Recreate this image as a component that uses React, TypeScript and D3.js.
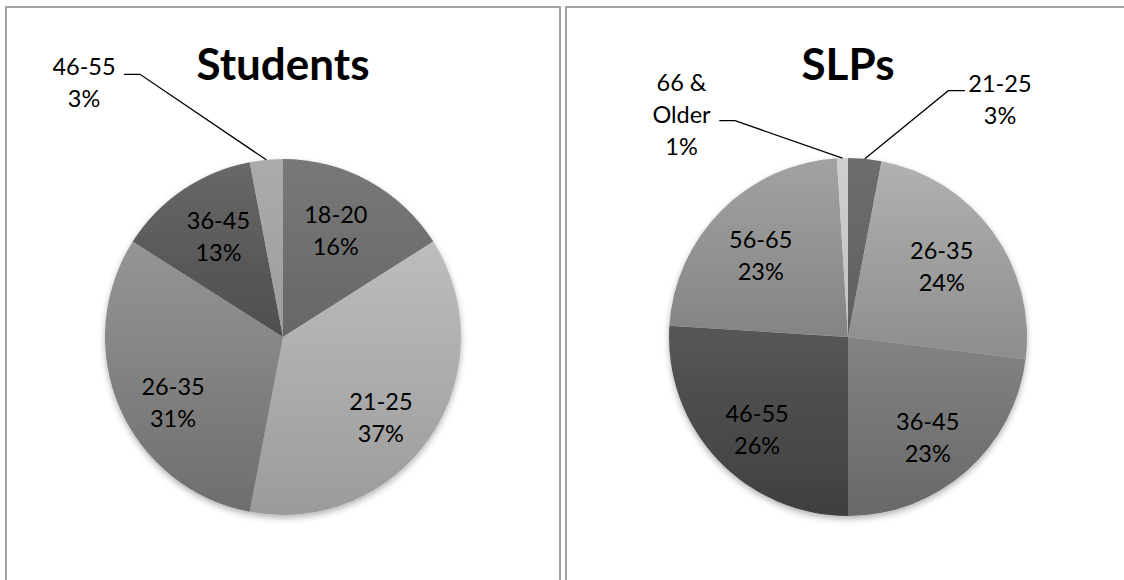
import React from "react";
import * as d3 from "d3";

// Age distribution of respondents (percent of each group)
const studentAges = ["18-20", "21-25", "26-35", "36-45", "46-55"];
const studentShares = [16, 37, 31, 13, 3];

const slpAges = ["21-25", "26-35", "36-45", "46-55", "56-65", "66 & Older"];
const slpShares = [3, 24, 23, 26, 23, 1];

// Slice fills: [top, bottom] of each slice's vertical gradient
const studentTones = [
  ["#787878", "#676767"],
  ["#bdbdbd", "#9b9b9b"],
  ["#959595", "#6e6e6e"],
  ["#686868", "#4e4e4e"],
  ["#ababab", "#9d9d9d"],
];
const slpTones = [
  ["#6d6d6d", "#606060"],
  ["#b1b1b1", "#8d8d8d"],
  ["#838383", "#686868"],
  ["#575757", "#3f3f3f"],
  ["#a2a2a2", "#848484"],
  ["#cfcfcf", "#c2c2c2"],
];

const W = 1124;
const H = 580;
const FONT = "Lato, 'Open Sans', sans-serif";
const LABEL_SIZE = 23.5;
const LINE = 32;
const LABEL_R = 122;

type Nudge = { dx: number; dy: number };
type Callout = { tx: number; ty: number; sx: number; ex: number; ly: number };

interface PieSpec {
  id: string;
  title: string;
  cats: string[];
  values: number[];
  tones: string[][];
  cx: number;
  cy: number;
  r: number;
  nudges: Record<string, Nudge>;
  callouts: Record<string, Callout>;
}

const pies: PieSpec[] = [
  {
    id: "stu",
    title: "Students",
    cats: studentAges,
    values: studentShares,
    tones: studentTones,
    cx: 283,
    cy: 337,
    r: 178,
    nudges: {
      "18-20": { dx: -6, dy: 0 },
      "21-25": { dx: -3, dy: 12 },
      "26-35": { dx: 2, dy: 17 },
      "36-45": { dx: 4, dy: 0 },
    },
    callouts: {
      "46-55": { tx: -199, ty: -262, sx: -159, ex: -143, ly: -262.7 },
    },
  },
  {
    id: "slp",
    title: "SLPs",
    cats: slpAges,
    values: slpShares,
    tones: slpTones,
    cx: 848,
    cy: 337,
    r: 179,
    nudges: {
      "26-35": { dx: -5, dy: 1 },
      "36-45": { dx: -1, dy: 9 },
      "46-55": { dx: -2, dy: 9 },
      "56-65": { dx: -1, dy: 5 },
    },
    callouts: {
      "21-25": { tx: 152, ty: -245.3, sx: 117, ex: 100.3, ly: -246.3 },
      "66 & Older": { tx: -166.5, ty: -246.3, sx: -128.7, ex: -113, ly: -216.3 },
    },
  },
];

function wrapCategory(c: string): string[] {
  const i = c.lastIndexOf(" ");
  return i > 0 ? [c.slice(0, i), c.slice(i + 1)] : [c];
}

function PieChart({ spec }: { spec: PieSpec }) {
  const arcs = d3
    .pie<number>()
    .sort(null)
    .value((d) => d)(spec.values);
  const arc = d3.arc<d3.PieArcDatum<number>>().innerRadius(0).outerRadius(spec.r);
  const labelArc = d3
    .arc<d3.PieArcDatum<number>>()
    .innerRadius(LABEL_R)
    .outerRadius(LABEL_R);
  const total = d3.sum(spec.values);
  const pct = (v: number) => `${Math.round((v / total) * 100)}%`;

  return (
    <g>
      <defs>
        {spec.tones.map((t, i) => (
          <linearGradient key={i} id={`${spec.id}-g${i}`} x1="0" y1="0" x2="0" y2="1">
            <stop offset="0" stopColor={t[0]} />
            <stop offset="1" stopColor={t[1]} />
          </linearGradient>
        ))}
      </defs>
      <text
        x={spec.cx}
        y={80}
        textAnchor="middle"
        fontFamily={FONT}
        fontWeight={700}
        fontSize={44}
        fill="#000"
      >
        {spec.title}
      </text>
      <g transform={`translate(${spec.cx},${spec.cy})`}>
        <g filter="url(#pieShadow)">
          {arcs.map((a, i) => (
            <path key={i} d={arc(a) ?? ""} fill={`url(#${spec.id}-g${i})`} />
          ))}
        </g>
        {arcs.map((a, i) => {
          const cat = spec.cats[i];
          const co = spec.callouts[cat];
          if (co) {
            const mid = (a.startAngle + a.endAngle) / 2;
            const px = Math.sin(mid) * spec.r;
            const py = -Math.cos(mid) * spec.r;
            const lines = [...wrapCategory(cat), pct(a.value)];
            return (
              <g key={`l${i}`}>
                <path
                  d={`M${co.sx},${co.ly}H${co.ex}L${px},${py}`}
                  fill="none"
                  stroke="#000"
                  strokeWidth={1.3}
                />
                <text
                  textAnchor="middle"
                  fontFamily={FONT}
                  fontSize={LABEL_SIZE}
                  fill="#000"
                >
                  {lines.map((s, k) => (
                    <tspan key={k} x={co.tx} y={co.ty + k * LINE}>
                      {s}
                    </tspan>
                  ))}
                </text>
              </g>
            );
          }
          const [lx, ly] = labelArc.centroid(a);
          const n = spec.nudges[cat] ?? { dx: 0, dy: 0 };
          const x = lx + n.dx;
          const y0 = ly - 7.5 + n.dy;
          return (
            <text
              key={`l${i}`}
              textAnchor="middle"
              fontFamily={FONT}
              fontSize={LABEL_SIZE}
              fill="#000"
            >
              <tspan x={x} y={y0}>
                {cat}
              </tspan>
              <tspan x={x} y={y0 + LINE}>
                {pct(a.value)}
              </tspan>
            </text>
          );
        })}
      </g>
    </g>
  );
}

export default function App() {
  return (
    <svg
      width={W}
      height={H}
      viewBox={`0 0 ${W} ${H}`}
      style={{ position: "absolute", left: 0, top: 0, background: "#fff" }}
    >
      <defs>
        <filter id="pieShadow" x="-20%" y="-20%" width="140%" height="140%">
          <feDropShadow dx="0" dy="3" stdDeviation="3" floodColor="#000" floodOpacity="0.3" />
        </filter>
      </defs>
      <rect x={0} y={0} width={W} height={H} fill="#fff" />
      {/* chart frames */}
      <rect x={6} y={7} width={554} height={620} fill="none" stroke="#a3a3a3" strokeWidth={2} />
      <rect x={566} y={7} width={620} height={620} fill="none" stroke="#a3a3a3" strokeWidth={2} />
      {pies.map((p) => (
        <PieChart key={p.id} spec={p} />
      ))}
    </svg>
  );
}
